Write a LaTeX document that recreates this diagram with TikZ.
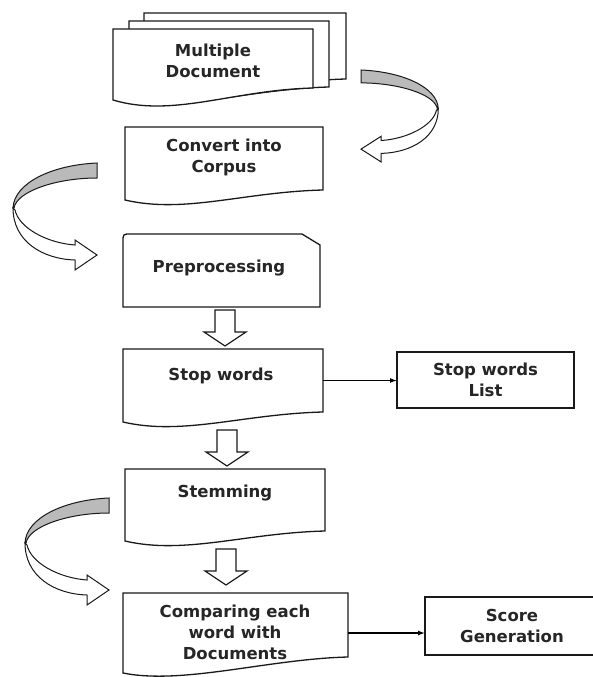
\documentclass[tikz,border=0pt]{standalone}
\usepackage{fontspec}
\setmainfont{DejaVu Sans}
\usetikzlibrary{calc,arrows.meta}
\tikzset{
  outl/.style={draw=black!90, line width=1.3pt, fill=white, line join=miter},
  box/.style={draw=none, inner sep=0pt, outer sep=0pt},
  txt/.style={font=\bfseries\fontsize{16.5}{21}\selectfont, align=center, inner sep=0pt, text=black!85},
  rbox/.style={draw=black!90, line width=1.3pt, fill=white, inner sep=0pt, outer sep=0pt,
     font=\bfseries\fontsize{16.5}{21}\selectfont, align=center, text=black!85},
  conn/.style={draw=black, line width=1.3pt, -{Latex[length=7pt,width=5pt]}},
  blockarr/.pic={\draw[outl, line width=1.2pt] (-10,0) -- (10,0) -- (10,22) -- (21,22) -- (0,36) -- (-21,22) -- (-10,22) -- cycle;},
  curvarr/.pic={
    \draw[line width=1pt, draw=black!90, fill=black!27] (0,0) -- (0,15) .. controls (-40,15) and (-80,28) .. (-83,45) -- (-84,45) .. controls (-83,20) and (-45,2) .. (0,0) -- cycle;
    \draw[line width=1pt, draw=black!90, fill=white] (-84,45) .. controls (-84,78) and (-55,96) .. (-22,97) -- (-22,107) -- (0,92) -- (-22,77) -- (-22,82) .. controls (-50,80) and (-78,65) .. (-82,47) -- cycle;
  }
}
\newcommand\docshape[3]{%
  \draw[outl] (#1.north west) -- (#1.north east) -- (#1.south east)
    .. controls +(-80,2) and ($(#1.south west)+(60,#3)$) .. ($(#1.south west)+(0,#2)$) -- cycle;}
\begin{document}
\begin{tikzpicture}[x=1pt,y=-1pt]
\useasboundingbox (0,0) rectangle (593,677);
\clip (0,0) rectangle (593,677);
\fill[white] (0,0) rectangle (593,677);

% Multiple document stack
\node[box, minimum width=202pt, minimum height=66pt] (s3) at (245,46) {};
\node[box, minimum width=200pt, minimum height=66pt] (s2) at (229,54) {};
\node[box, minimum width=200pt, minimum height=59pt] (md) at (213,58.5) {};
\docshape{s3}{12}{24}
\docshape{s2}{12}{24}
\docshape{md}{12}{30}
\node[txt] (mdt) at (213,61) {Multiple\\Document};

% Convert into corpus
\node[box, minimum width=198pt, minimum height=63pt] (cc) at (224,158.5) {};
\docshape{cc}{10}{24}
\node[txt] (cct) at (224,157.5) {Convert into\\Corpus};

% Preprocessing
\node[box, minimum width=197pt, minimum height=73pt] (pp) at (221.5,270.5) {};
\draw[outl] (pp.south west) -- ($(pp.north west)+(0,8)$) .. controls (pp.north west) .. ($(pp.north west)+(8,0)$)
  -- ($(pp.north east)+(-18,0)$) -- ($(pp.north east)+(0,11)$) -- (pp.south east) -- cycle;
\node[txt] (ppt) at (219,268) {Preprocessing};

% Stop words
\node[box, minimum width=200pt, minimum height=63pt] (sw) at (223,380.5) {};
\docshape{sw}{10}{24}
\node[txt] (swt) at (221,376) {Stop words};
\node[rbox, minimum width=177pt, minimum height=56pt] (swl) at (485.5,380) {Stop words\\List};

% Stemming
\node[box, minimum width=200pt, minimum height=62pt] (st) at (225,500) {};
\docshape{st}{10}{24}
\node[txt] (stt) at (225,493) {Stemming};

% Comparing
\node[box, minimum width=225pt, minimum height=64pt] (cmp) at (235.5,625) {};
\docshape{cmp}{16}{28}
\node[txt] (cmpt) at (235,632.5) {Comparing each\\word with\\Documents};
\node[rbox, minimum width=174pt, minimum height=58pt] (sg) at (512,626) {Score\\Generation};

% block arrows
\pic at ($(pp.south)+(3.5,3)$) {blockarr};
\pic at ($(sw.south)+(4,18)$) {blockarr};
\pic at ($(st.south)+(1,18)$) {blockarr};

% curved arrows
\pic[xscale=-0.92, yscale=0.86] at (361,70) {curvarr};
\pic at (97,163) {curvarr};
\pic at (109,498) {curvarr};

% connectors
\draw[conn] (sw.east) -- (sw.east -| swl.west);
\coordinate (cmpR) at ($(cmp.east)+(0,8)$);
\draw[conn] (cmpR) -- (cmpR -| sg.west);
\end{tikzpicture}
\end{document}
